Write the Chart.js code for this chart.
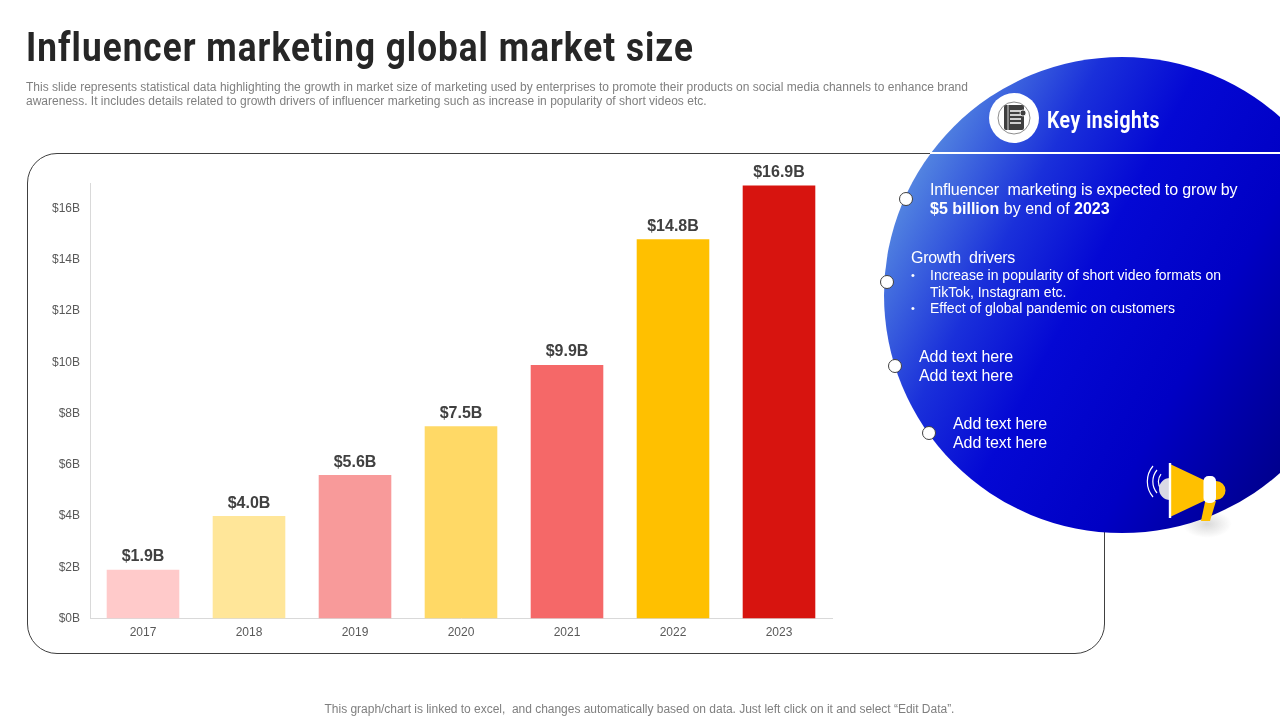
<!DOCTYPE html>
<html><head><meta charset="utf-8">
<script src="https://cdn.jsdelivr.net/npm/chart.js@4/dist/chart.umd.min.js"></script>
<style>
html,body{margin:0;padding:0;background:#fff;width:1280px;height:720px;overflow:hidden;font-family:"Liberation Sans",Arial,sans-serif}
.t{position:absolute;white-space:nowrap;line-height:1}
#frame{position:absolute;left:27px;top:153px;width:1076px;height:499px;border:1px solid #404040;border-radius:30px;box-sizing:content-box}
#cv{position:absolute;left:0;top:0;width:1280px;height:720px}
#circle{position:absolute;left:884px;top:57px;width:476px;height:476px;border-radius:50%;
 background:linear-gradient(118deg,#86ace8 3%,#4f7fe0 14%,#1a30da 30%,#0408d4 44%,#0000c4 64%,#000090 84%,#000070 96%)}
#clip{position:absolute;left:0;top:0;width:1280px;height:720px;overflow:hidden}
#shadow{position:absolute;left:1182px;top:510px;width:50px;height:28px;background:radial-gradient(ellipse at center,rgba(120,120,120,.28),rgba(255,255,255,0) 70%)}
#wline{position:absolute;left:930px;top:152px;width:350px;height:2px;background:#fff}
.dot{position:absolute;width:12px;height:12px;border-radius:50%;background:#fff;border:1px solid #404040}
.w{color:#fff;font-size:16px}
.fit{transform-origin:0 50%;font-family:Roboto,'Liberation Sans';font-weight:700;font-variant-ligatures:none}
</style></head><body>
<div id="frame"></div>
<canvas id="cv" width="1280" height="720"></canvas>
<div id="shadow"></div>
<div id="clip"><div id="circle"></div></div>
<div id="wline"></div>
<div class="t fit" data-w="668" style="left:26px;top:27px;font-size:41px;letter-spacing:1.2px;color:#262626">Influencer marketing global market size</div>
<div class="t" style="left:26px;top:81px;font-size:12px;color:#7f7f7f;letter-spacing:.012px">This slide represents statistical data highlighting the growth in market size of marketing used by enterprises to promote their products on social media channels to enhance brand</div>
<div class="t" style="left:26px;top:95px;font-size:12px;color:#7f7f7f;letter-spacing:.012px">awareness. It includes details related to growth drivers of influencer marketing such as increase in popularity of short videos etc.</div>
<div class="t" style="left:0;width:1279px;text-align:center;top:703px;font-size:12px;color:#7f7f7f;letter-spacing:-.02px">This graph/chart is linked to excel,&nbsp; and changes automatically based on data. Just left click on it and select “Edit Data”.</div>

<svg style="position:absolute;left:989px;top:93px" width="50" height="50" viewBox="0 0 50 50">
<circle cx="25" cy="25" r="25" fill="#fff"/>
<circle cx="25" cy="25" r="16" fill="none" stroke="#404040" stroke-width=".6"/>
<rect x="15" y="12" width="20" height="25" rx="2" fill="#3f3f3f"/>
<path d="M19 12v25" stroke="#fff" stroke-width=".8"/>
<path d="M21 18h11M21 22h11M21 26h11M21 30h11" stroke="#fff" stroke-width="1.3"/>
<circle cx="34" cy="20" r="3" fill="#3f3f3f" stroke="#fff" stroke-width=".8"/>
</svg>
<div class="t fit" data-w="113" style="left:1047px;top:108px;font-size:24px;letter-spacing:.7px;color:#fff">Key insights</div>

<div class="dot" style="left:899px;top:192px"></div>
<div class="dot" style="left:880px;top:275px"></div>
<div class="dot" style="left:888px;top:359px"></div>
<div class="dot" style="left:922px;top:426px"></div>

<div class="t w" style="left:930px;top:182px;letter-spacing:-.13px">Influencer&nbsp; marketing is expected to grow by</div>
<div class="t w" style="left:930px;top:201px"><b>$5 billion</b> by end of <b>2023</b></div>
<div class="t w" style="left:911px;top:250px;letter-spacing:-.3px">Growth&nbsp; drivers</div>
<div class="t w" style="left:911px;top:270px;font-size:11px">•</div>
<div class="t w" style="left:930px;top:268px;font-size:14px">Increase in popularity of short video formats on</div>
<div class="t w" style="left:930px;top:285px;font-size:14px">TikTok, Instagram etc.</div>
<div class="t w" style="left:911px;top:303px;font-size:11px">•</div>
<div class="t w" style="left:930px;top:301px;font-size:14px">Effect of global pandemic on customers</div>
<div class="t w" style="left:919px;top:349px;letter-spacing:-.08px">Add text here</div>
<div class="t w" style="left:919px;top:368px;letter-spacing:-.08px">Add text here</div>
<div class="t w" style="left:953px;top:416px;letter-spacing:-.08px">Add text here</div>
<div class="t w" style="left:953px;top:435px;letter-spacing:-.08px">Add text here</div>

<svg style="position:absolute;left:1140px;top:455px" width="95" height="75" viewBox="0 0 95 75">
<path d="M13 11 a24 24 0 0 0 0 31 M17 15 a18 18 0 0 0 0 23 M21 19 a12 12 0 0 0 0 15" fill="none" stroke="#fff" stroke-width="1.2"/>
<path d="M30 23 a11 11 0 0 0 0 22 z" fill="#d9d9e4"/>
<path d="M65 47 L61 66 L70 66 L76 46 z" fill="#ffc000"/>
<path d="M30 9 L66 26 L76 26 A9.5 9.5 0 0 1 76 45 L66 45 L30 62 z" fill="#ffc000"/>
<path d="M30 8 v55" stroke="#fff" stroke-width="2.4"/>
<rect x="63.500" y="21" width="12.500" height="27" rx="5" fill="#fff"/>
</svg>

<script>
const categories = ["2017","2018","2019","2020","2021","2022","2023"];
const marketSize = [1.9,4.0,5.6,7.5,9.9,14.8,16.9];
const barColors = ["#ffcaca","#ffe699","#f89a9a","#ffd966","#f56868","#ffc000","#d7140f"];
const tickStep = 2;
const axisMax = 17;

document.querySelectorAll(".fit").forEach(el=>{
  const w = el.getBoundingClientRect().width;
  el.style.transform = "scaleX("+(Number(el.dataset.w)/w)+")";
});

const valueLabels = {
  id:"valueLabels",
  afterDatasetsDraw(chart){
    const {ctx} = chart;
    const meta = chart.getDatasetMeta(0);
    ctx.save();
    ctx.font = "bold 16px 'Liberation Sans'";
    ctx.fillStyle = "#404040";
    ctx.textAlign = "center";
    ctx.textBaseline = "alphabetic";
    meta.data.forEach((bar,i)=>{
      ctx.fillText("$"+marketSize[i].toFixed(1)+"B", bar.x, bar.y-8.5);
    });
    ctx.restore();
  }
};

new Chart(document.getElementById("cv"),{
  type:"bar",
  data:{labels:categories,datasets:[{data:marketSize,backgroundColor:barColors,borderWidth:0,barPercentage:.685,categoryPercentage:1}]},
  plugins:[valueLabels],
  options:{
    responsive:false,animation:false,devicePixelRatio:1,
    layout:{padding:{top:183,right:448,left:0,bottom:0}},
    plugins:{legend:{display:false},tooltip:{enabled:false},title:{display:false}},
    scales:{
      x:{
        grid:{display:false,drawTicks:false},
        border:{color:"#d9d9d9"},
        ticks:{color:"#595959",font:{size:12,family:"'Liberation Sans'"},padding:7,maxRotation:0},
        afterFit(s){s.height=101.5;}
      },
      y:{
        min:0,max:axisMax,
        grid:{display:false,drawTicks:false},
        border:{color:"#d9d9d9"},
        ticks:{stepSize:tickStep,includeBounds:false,color:"#595959",font:{size:12,family:"'Liberation Sans'"},padding:10,callback:v=>"$"+v+"B"},
        afterFit(s){s.width=90;}
      }
    }
  }
});
</script>
</body></html>
